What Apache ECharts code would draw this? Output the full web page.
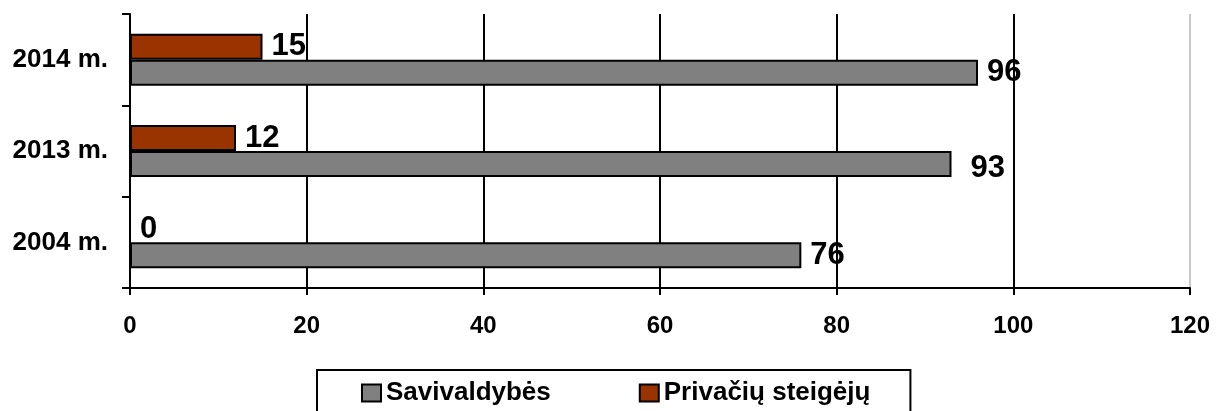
<!DOCTYPE html>
<html>
<head>
<meta charset="utf-8">
<script src="https://cdn.jsdelivr.net/npm/echarts@6/dist/echarts.min.js"></script>
<style>
html,body{margin:0;padding:0;background:#fff;}
#chart{width:1216px;height:411px;}
</style>
</head>
<body>
<div id="chart"></div>
<script>
const categories = ['2004 m.', '2013 m.', '2014 m.'];
const savivaldybes = [76, 93, 96];
const privaciu = [0, 12, 15];
const seriesNames = ['Savivaldybės', 'Privačių steigėjų'];
const xTicks = [0, 20, 40, 60, 80, 100, 120];

const FONT = 'Arial, "Liberation Sans", sans-serif';
const chart = echarts.init(document.getElementById('chart'));

const labelStyle = {
  show: true,
  position: 'right',
  distance: 9,
  fontFamily: FONT,
  fontWeight: 'bold',
  fontSize: 31,
  color: '#000'
};

chart.setOption({
  animation: false,
  backgroundColor: '#fff',
  grid: { left: 130, right: 26, top: 14, bottom: 123, containLabel: false },
  legend: {
    data: seriesNames,
    icon: 'rect',
    left: 317,
    top: 370,
    orient: 'horizontal',
    itemGap: 88,
    itemWidth: 19,
    itemHeight: 17,
    padding: [10, 40, 20, 44],
    borderColor: '#000',
    borderWidth: 2,
    textStyle: { fontFamily: FONT, fontWeight: 'bold', fontSize: 26, color: '#000' }
  },
  xAxis: {
    type: 'value',
    min: xTicks[0],
    max: xTicks[xTicks.length - 1],
    interval: xTicks[1] - xTicks[0],
    axisLine: { show: true, lineStyle: { color: '#000', width: 2 } },
    axisTick: { show: true, length: 7, lineStyle: { color: '#000', width: 2 } },
    axisLabel: { margin: 26, fontFamily: FONT, fontWeight: 'bold', fontSize: 24, color: '#000' },
    splitLine: { show: true, lineStyle: { color: ['#000', '#000', '#000', '#000', '#000', '#000', '#c8c8c8'], width: 2 } }
  },
  yAxis: {
    type: 'category',
    data: categories,
    axisLine: { show: true, lineStyle: { color: '#000', width: 2 } },
    axisTick: { show: true, length: 8, lineStyle: { color: '#000', width: 2 } },
    axisLabel: { margin: 22, fontFamily: FONT, fontWeight: 'bold', fontSize: 26, color: '#000' }
  },
  series: [
    {
      name: seriesNames[1],
      type: 'bar',
      data: privaciu,
      barWidth: 26,
      barGap: '0%',
      itemStyle: { color: '#993300', borderColor: '#000', borderWidth: 2 },
      label: labelStyle
    },
    {
      name: seriesNames[0],
      type: 'bar',
      data: savivaldybes.map((v, i) => i === 1
        ? { value: v, label: { offset: [10, 4] } }
        : v),
      barWidth: 26,
      barGap: '0%',
      itemStyle: { color: '#808080', borderColor: '#000', borderWidth: 2 },
      label: labelStyle
    }
  ]
});
</script>
</body>
</html>
